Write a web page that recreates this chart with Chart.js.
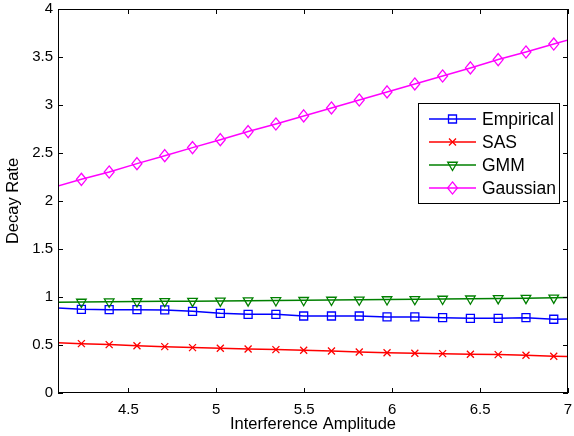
<!DOCTYPE html>
<html>
<head>
<meta charset="utf-8">
<script src="https://cdn.jsdelivr.net/npm/chart.js@4.4.1/dist/chart.umd.min.js"></script>
<style>
  html, body { margin: 0; padding: 0; background: #fff; }
</style>
</head>
<body>
<canvas id="chart" width="574" height="436"></canvas>
<script>
// Data (first and last points sit just outside the axis range)
const amplitude = [4.075, 4.233, 4.391, 4.549, 4.707, 4.865, 5.023, 5.181, 5.339, 5.497,
                   5.655, 5.813, 5.971, 6.129, 6.287, 6.445, 6.603, 6.761, 6.919, 7.077];
const empirical = [0.889, 0.872, 0.868, 0.868, 0.865, 0.851, 0.830, 0.820, 0.820, 0.802,
                   0.802, 0.802, 0.792, 0.792, 0.785, 0.778, 0.778, 0.785, 0.768, 0.772];
const sas       = [0.526, 0.514, 0.504, 0.493, 0.483, 0.473, 0.466, 0.459, 0.452, 0.445,
                   0.438, 0.427, 0.420, 0.414, 0.410, 0.403, 0.400, 0.393, 0.382, 0.376];
const gmm       = [0.946, 0.948, 0.951, 0.953, 0.955, 0.957, 0.959, 0.962, 0.964, 0.966,
                   0.969, 0.971, 0.974, 0.976, 0.979, 0.982, 0.985, 0.988, 0.991, 0.996];
const gaussian  = [2.142, 2.226, 2.302, 2.389, 2.472, 2.556, 2.639, 2.723, 2.802, 2.886,
                   2.969, 3.052, 3.136, 3.219, 3.302, 3.386, 3.473, 3.552, 3.635, 3.718];
const seriesNames = ['Empirical', 'SAS', 'GMM', 'Gaussian'];
const xTicks = [4.5, 5, 5.5, 6, 6.5, 7];
const yTicks = [0, 0.5, 1, 1.5, 2, 2.5, 3, 3.5, 4];
const xMin = 4.1, xMax = 7;
const yMin = 0, yMax = 4;

const FONT = '"Liberation Sans", Arial, Helvetica, sans-serif';

// marker styles, MATLAB-like
const styles = [
    { color: '#0000ff', shape: 'square', r: 4 },
    { color: '#ff0000', shape: 'x', r: 3.5 },
    { color: '#008000', shape: 'tri', r: 5.5 },
    { color: '#ff00ff', shape: 'diamond', r: 5.5 }
];

const drawMarker = (ctx, shape, x, y, r, color) => {
    ctx.save();
    ctx.strokeStyle = color;
    ctx.lineWidth = 1.3;
    ctx.beginPath();
    if (shape === 'square') {
        ctx.rect(x - r, y - r, 2 * r, 2 * r);
    } else if (shape === 'x') {
        ctx.moveTo(x - r, y - r); ctx.lineTo(x + r, y + r);
        ctx.moveTo(x + r, y - r); ctx.lineTo(x - r, y + r);
    } else if (shape === 'tri') {
        ctx.moveTo(x - r * 0.87, y - r * 0.5);
        ctx.lineTo(x + r * 0.87, y - r * 0.5);
        ctx.lineTo(x, y + r);
        ctx.closePath();
    } else if (shape === 'diamond') {
        ctx.moveTo(x, y - r * 1.1);
        ctx.lineTo(x + r * 0.9, y);
        ctx.lineTo(x, y + r * 1.1);
        ctx.lineTo(x - r * 0.9, y);
        ctx.closePath();
    }
    ctx.stroke();
    ctx.restore();
};

const toPoints = (ys) => amplitude.map((x, i) => ({ x: x, y: ys[i] }));

// lines come from Chart.js, markers drawn on the element positions
const markerPlugin = {
    id: 'markers',
    afterDatasetsDraw(chart) {
        const ctx = chart.ctx;
        chart.data.datasets.forEach((ds, i) => {
            const st = styles[i];
            chart.getDatasetMeta(i).data.forEach((pt, k) => {
                const xv = amplitude[k];
                if (xv < xMin || xv > xMax) return;
                drawMarker(ctx, st.shape, pt.x, pt.y, st.r, st.color);
            });
        });
    }
};

// box frame with inward ticks on all sides, plus legend
const framePlugin = {
    id: 'frame',
    afterDraw(chart) {
        const { ctx, chartArea: a, scales: { x, y } } = chart;
        ctx.save();
        ctx.strokeStyle = '#000';
        ctx.lineWidth = 1;
        ctx.strokeRect(a.left + 0.5, a.top + 0.5, a.right - a.left - 1, a.bottom - a.top - 1);
        ctx.beginPath();
        const tl = 5;
        xTicks.forEach(v => {
            const px = Math.round(x.getPixelForValue(v)) + 0.5;
            ctx.moveTo(px, a.bottom); ctx.lineTo(px, a.bottom - tl);
            ctx.moveTo(px, a.top); ctx.lineTo(px, a.top + tl);
        });
        yTicks.forEach(v => {
            const py = Math.round(y.getPixelForValue(v)) + 0.5;
            ctx.moveTo(a.left, py); ctx.lineTo(a.left + tl, py);
            ctx.moveTo(a.right, py); ctx.lineTo(a.right - tl, py);
        });
        ctx.stroke();

        // legend
        const lx = 418.5, ly = 103.5, lw = 141, lh = 100;
        ctx.fillStyle = '#fff';
        ctx.fillRect(lx, ly, lw, lh);
        ctx.strokeRect(lx, ly, lw, lh);
        ctx.font = '17.5px ' + FONT;
        ctx.textBaseline = 'middle';
        ctx.textAlign = 'left';
        seriesNames.forEach((name, i) => {
            const st = styles[i];
            const ey = 119 + i * 23;
            ctx.strokeStyle = st.color;
            ctx.lineWidth = 1.5;
            ctx.beginPath();
            ctx.moveTo(429, ey); ctx.lineTo(476, ey);
            ctx.stroke();
            drawMarker(ctx, st.shape, 452.5, ey, st.r, st.color);
            ctx.fillStyle = '#000';
            ctx.fillText(name, 482, ey + 1);
        });
        ctx.restore();
    }
};

const allSeries = [empirical, sas, gmm, gaussian];

new Chart(document.getElementById('chart'), {
    type: 'line',
    data: {
        datasets: allSeries.map((ys, i) => ({
            label: seriesNames[i],
            data: toPoints(ys),
            borderColor: styles[i].color,
            borderWidth: 1.5,
            pointRadius: 0,
            fill: false,
            tension: 0
        }))
    },
    options: {
        responsive: false,
        animation: false,
        devicePixelRatio: 1,
        layout: { padding: { left: 0, right: 6, top: 9, bottom: 0 } },
        plugins: {
            legend: { display: false },
            tooltip: { enabled: false }
        },
        scales: {
            x: {
                type: 'linear',
                min: xMin,
                max: xMax,
                afterBuildTicks: (scale) => { scale.ticks = xTicks.map(v => ({ value: v })); },
                afterFit: (scale) => {
                    scale.height = 43;
                    scale.paddingLeft = 0;
                    scale.paddingRight = 0;
                },
                grid: { display: false, drawTicks: false },
                border: { display: false },
                ticks: {
                    color: '#000',
                    padding: 8,
                    autoSkip: false,
                    maxRotation: 0,
                    font: { family: FONT, size: 15 },
                    callback: (v) => String(v)
                },
                title: {
                    display: true,
                    text: 'Interference Amplitude',
                    color: '#000',
                    padding: { top: 0, bottom: 2 },
                    font: { family: FONT, size: 16.5, lineHeight: 1.2 }
                }
            },
            y: {
                min: yMin,
                max: yMax,
                afterBuildTicks: (scale) => { scale.ticks = yTicks.map(v => ({ value: v })); },
                afterFit: (scale) => {
                    scale.width = 58;
                    scale.paddingTop = 0;
                    scale.paddingBottom = 0;
                },
                grid: { display: false, drawTicks: false },
                border: { display: false },
                ticks: {
                    color: '#000',
                    padding: 5,
                    font: { family: FONT, size: 15 },
                    callback: (v) => String(v)
                },
                title: {
                    display: true,
                    text: 'Decay Rate',
                    color: '#000',
                    padding: { top: 4, bottom: 0 },
                    font: { family: FONT, size: 16.5, lineHeight: 1.2 }
                }
            }
        }
    },
    plugins: [markerPlugin, framePlugin]
});
</script>
</body>
</html>
